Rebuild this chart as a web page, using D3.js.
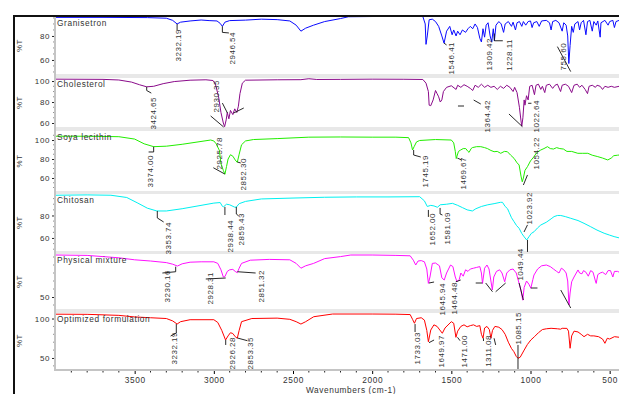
<!DOCTYPE html>
<html>
<head>
<meta charset="utf-8">
<script src="https://cdn.jsdelivr.net/npm/d3@7"></script>
<style>
body { margin: 0; background: #fff; }
svg text { font-family: "Liberation Sans", Arial, sans-serif; }
</style>
</head>
<body>
<svg id="chart" width="619" height="394"></svg>
<script>
// spectra, [wavenumber, %T]
var granisetron = [
  [4000,95.5],[3700,95.5],[3420,95.3],[3300,94.8],[3260,93],[3232,90],[3210,91.5],[3150,92.5],[3080,93.3],[3030,92.8],
  [2980,92.5],[2960,90.5],[2946,88],[2930,91.5],[2900,92.8],[2800,93.2],[2700,94],[2600,93.6],[2520,92.5],[2480,89],
  [2450,84],[2420,86.5],[2370,89],[2300,92],[2200,94.5],[2150,96],[2000,96.2],[1800,96.3],[1680,96.2],[1665,90],
  [1660,73],[1652,80],[1640,93.5],[1620,94],[1600,92],[1580,88],[1560,80],[1546,74],[1530,84],[1510,88],
  [1495,81],[1485,85],[1470,80],[1460,84],[1445,81],[1430,85],[1410,83],[1395,86],[1380,88],[1365,86],
  [1350,90],[1335,87],[1320,78],[1310,75],[1300,86],[1290,79],[1280,89],[1268,91],[1255,80],[1245,75],
  [1235,86],[1228,76],[1218,89],[1200,92],[1185,90],[1170,83],[1160,90],[1140,92],[1120,88],[1110,91.5],
  [1095,85],[1085,91],[1070,92],[1055,88],[1045,92],[1030,89],[1015,92],[1000,92.5],[990,87],[980,91],
  [960,92],[945,88],[930,92.5],[900,93],[880,91],[870,85],[860,92],[840,93],[820,91],[800,84],
  [790,91],[775,89],[765,80],[758,57],[750,72],[740,88],[730,83],[720,90],[700,92],[690,85],
  [680,91],[665,93],[650,81],[640,92],[625,93],[610,84],[600,92],[585,89],[575,92.5],[560,79],
  [555,91],[530,93],[510,89],[500,92],[480,93],[470,87],[460,92],[440,93],[400,92.5]
];
var cholesterol = [
  [4000,101.8],[3700,101.6],[3600,101],[3520,99],[3470,96.5],[3424,94.5],[3380,95],[3320,97.5],[3250,99.5],[3150,100.8],
  [3050,101.2],[3005,100.5],[2990,97],[2970,85],[2955,70],[2940,60],[2932,56.5],[2922,63],[2915,70],[2905,64],
  [2895,72],[2880,68],[2868,73.5],[2855,70],[2845,76],[2835,88],[2820,98],[2800,100.8],[2600,101.2],[2450,101.3],
  [2400,102.2],[2350,101.5],[2200,101.6],[2000,101.8],[1800,101.7],[1680,101.5],[1660,98],[1645,90],[1640,77],[1630,76.5],
  [1615,82],[1600,91],[1590,88],[1580,85],[1570,80],[1560,82],[1550,90],[1530,94],[1500,95.5],[1470,92],
  [1460,96],[1440,94],[1420,96.5],[1400,95],[1380,93],[1365,91],[1350,96],[1330,94],[1310,97],[1290,94],
  [1270,96],[1250,94],[1230,95],[1210,92],[1190,95],[1170,93],[1150,96],[1130,94],[1110,90],[1100,94],
  [1085,89],[1070,75],[1060,62],[1055,57],[1048,65],[1040,82],[1035,77],[1025,86],[1015,82],[1005,95],
  [990,96],[975,87],[965,96],[950,97],[935,92],[925,95],[910,89],[900,96],[880,97],[860,93],
  [845,96],[830,97],[810,90],[800,96],[780,97],[760,95],[740,89],[725,96],[705,97],[690,94],
  [675,96],[655,92],[640,88],[630,95],[610,96],[590,94],[580,96],[560,95],[545,92],[530,95],
  [510,94],[490,95],[470,94],[440,95],[400,95]
];
var soyaLecithin = [
  [4000,104],[3800,104],[3600,103.5],[3500,101],[3440,96],[3380,93],[3300,93.5],[3200,95.5],[3100,98],[3020,100],
  [3000,99],[2985,96],[2965,89],[2955,75],[2940,68],[2930,64],[2920,72],[2910,80],[2895,84.5],[2880,83],
  [2865,79],[2852,76.5],[2840,85],[2825,95],[2800,99],[2750,100.5],[2600,101.5],[2400,103],[2200,103.2],[2000,103],
  [1850,103],[1770,102.5],[1755,97],[1745,89.5],[1735,93],[1720,98],[1700,99.5],[1600,100.5],[1500,100],[1485,97],
  [1475,88],[1469,80.5],[1455,88],[1441,89.5],[1425,91],[1409,91],[1395,88],[1388,87],[1375,91],[1367,92],
  [1340,93],[1314,93],[1290,92],[1272,91],[1250,89],[1230,87.7],[1210,88],[1188,86],[1165,88],[1146,87.7],
  [1125,84],[1104,80.7],[1085,76],[1072,73.7],[1060,62],[1052,56],[1045,60],[1035,68],[1019,72],[1000,78],
  [978,82.4],[960,87],[935,89.5],[915,91],[893,93],[875,91],[855,90.5],[835,92],[815,91],[792,90.5],
  [770,88],[740,88],[701,86],[670,86],[638,86],[610,84],[575,82.5],[545,81],[512,79],[490,81],
  [474,83.5],[450,84],[400,85]
];
var chitosan = [
  [4000,98],[3800,98.3],[3650,98],[3550,96],[3480,91],[3420,86.5],[3360,84],[3300,84],[3200,86],[3100,88.5],
  [3000,91],[2960,91.5],[2945,88],[2938,87.8],[2920,90],[2900,89.5],[2870,87.5],[2859,87.3],[2840,90.5],[2800,92.5],
  [2700,94.7],[2500,95.5],[2300,96.2],[2100,96.5],[1900,96.5],[1700,96.7],[1670,93],[1652,88],[1630,89],[1610,88.5],
  [1588,87.3],[1570,89.5],[1530,90],[1493,90.8],[1460,89],[1430,87],[1400,85],[1367,84],[1345,86],[1310,88],
  [1270,89.5],[1230,90.5],[1190,91.7],[1177,91.7],[1160,88],[1145,86],[1135,82.8],[1120,78],[1104,74.5],[1088,71],
  [1072,68.6],[1055,64],[1040,61],[1024,58.2],[1010,61],[995,64],[977,65.6],[955,69],[935,71.5],[900,74],
  [870,77],[851,79],[830,80],[809,80],[780,79],[746,77.5],[700,75.5],[662,73],[620,70],[580,67],
  [535,64.2],[500,62.5],[472,61.2],[430,59.7],[400,59.5]
];
var physicalMixture = [
  [4000,102.5],[3800,102],[3600,99],[3500,96.5],[3400,95],[3300,93],[3260,91],[3230,88.7],[3200,91.5],[3150,93.5],
  [3080,94],[3000,94],[2975,92],[2955,84],[2940,75],[2930,75.5],[2915,82],[2900,84],[2880,84.5],[2865,82],
  [2852,80.4],[2840,86],[2825,92],[2770,96],[2650,97],[2520,96.5],[2480,92],[2450,86],[2420,89],[2370,92],
  [2300,98],[2200,100.5],[2135,102.5],[2000,102.5],[1850,102],[1760,101.5],[1740,96],[1725,90],[1710,95],[1690,95.5],
  [1670,94],[1655,85],[1645,67],[1635,75],[1620,92],[1600,92.5],[1575,89],[1560,74],[1545,71.2],[1530,80],
  [1505,90],[1490,88],[1475,75],[1464,69],[1450,72],[1440,80],[1425,76],[1410,84],[1395,82],[1380,85],
  [1360,86],[1340,87],[1320,88],[1310,80],[1303,67],[1290,86],[1275,90],[1262,85],[1250,70],[1241,58.8],
  [1232,75],[1215,82],[1195,84],[1180,80],[1163,69],[1150,80],[1130,84],[1110,85],[1090,80],[1072,67],
  [1060,58],[1049,46],[1040,62],[1025,70],[1010,66],[998,61],[985,72],[978,77.5],[955,85],[930,89],
  [900,90],[875,88],[855,85],[835,82],[820,80],[805,86],[790,84],[775,80],[765,70],[757,40],
  [750,55],[740,69],[725,75],[700,83.8],[690,80],[675,79],[665,83],[650,81],[635,76],[620,83],
  [605,81],[590,70],[585,67],[575,78],[560,80],[545,81],[525,78],[510,83],[495,83],[480,75],
  [470,82],[450,82],[430,80],[400,81]
];
var optimizedFormulation = [
  [4000,105.5],[3800,105.3],[3600,104],[3500,102],[3400,101],[3300,100],[3260,97],[3232,93],[3210,96],[3150,98.5],
  [3000,98.5],[2975,95],[2950,85],[2926,72.8],[2910,78],[2895,82],[2880,81],[2865,77],[2852,75],[2840,85],
  [2825,96],[2760,100],[2600,100.5],[2520,99],[2480,96],[2450,93],[2420,96],[2369,102.3],[2250,105.7],[2000,105.7],
  [1850,105.5],[1760,105],[1745,99],[1733,94],[1720,100],[1690,101],[1670,98],[1655,85],[1645,70.6],[1630,85.4],
  [1610,92],[1590,90],[1557,81.3],[1540,88],[1500,96],[1485,94],[1471,76.2],[1460,84],[1440,90],[1420,92],
  [1400,89.5],[1380,91],[1360,92],[1340,90],[1320,91],[1310,80],[1300,75],[1290,88],[1275,90],[1260,86],
  [1250,75],[1240,85],[1225,90],[1200,89],[1180,86],[1160,80],[1140,70],[1120,62],[1105,58],[1090,52],
  [1079,49.6],[1065,51],[1040,60],[1020,67],[998,72.8],[975,77],[950,82],[925,86],[900,87],[870,87.6],
  [830,87],[810,86.5],[800,87.6],[770,87.5],[760,84],[750,62.3],[740,78],[725,84],[700,83],[680,80],
  [662,77],[640,80],[620,78],[600,78],[570,77],[545,74],[530,68.6],[515,75],[500,74],[470,77],
  [430,76],[400,76]
];

// peak labels: [text, wavenumber, %T at top of label]
var granisetronPeaks = [["3232.19",3228,85.8],["2946.54",2881,83.3],["1546.41",1504,75],["1309.42",1264,78.3],["1228.11",1137,77.5],["755.60",796,74.2]];
var cholesterolPeaks = [["3424.65",3386,84.8],["2930.35",2982,101],["1364.42",1272,81.9],["1022.64",967,81.9]];
var soyaPeaks = [["3374.00",3399,84.2],["2925.78",2969,103.2],["2852.30",2813,81],["1745.19",1662,84.2],["1469.67",1422,82.1],["1054.22",967,103.2]];
var chitosanPeaks = [["3353.74",3287,74.2],["2938.44",2894,76],["2859.43",2826,82.2],["1652.00",1619,82.2],["1581.09",1525,83.1],["1023.92",1009,100.9]];
var physicalPeaks = [["3230.16",3293,83.75],["2928.31",3024,81.25],["2851.32",2700,83.75],["1645.94",1556,67.5],["1464.48",1479,68.75],["1049.44",1062,111]];
var optimizedPeaks = [["3232.19",3252,82.9],["2926.28",2883,76.6],["2853.35",2772,76.6],["1733.03",1714,82.9],["1649.97",1567,79.1],["1471.00",1420,79.1],["1311.08",1268,79.1],["1085.15",1079,108.2]];

// leader lines, [wavenumber, %T] points
var granisetronLeaders = [[[3232,90],[3232,84.5]],[[2946,88],[2946,83],[2905,82.5]],[[1546,74],[1530,72.5]],[[1228,82],[1228,76],[1175,76]],[[830,71.1],[746,50.3]]];
var cholesterolLeaders = [[[3424,94.5],[3424,91],[3395,88.5]],[[3020,66.7],[2938,56.2]],[[2946,79],[2914,69.5]],[[2875,69.5],[2811,74.3]],
  [[1359,81.9],[1314,78.1]],[[1458,76.2],[1420,76.2]],[[1136,68.6],[1051,56.5]],[[1015,78.8],[994,78.8]]];
var soyaLeaders = [[[3380,93],[3380,87.4],[3412,87.4]],[[3003,70.8],[2931,64.2]],[[2851,76.8],[2830,75.8]],[[1738,89.5],[1738,84.2],[1693,82.1]],
  [[1462,81],[1434,78.9]],[[1045,52.6],[1019,63.2]]];
var chitosanLeaders = [[[3357,84],[3357,77.8],[3317,74.2]],[[2930,87.6],[2930,80.4]],[[2858,87.6],[2858,81.3],[2843,79.6]],[[1645,84.9],[1645,78.7]],
  [[1571,86.7],[1571,81.3],[1556,80.4]],[[1041,65.3],[1019,71.6]],[[1019,58.2],[1019,47.6]]];
var physicalLeaders = [[[3241,87.9],[3241,81.6],[3325,80]],[[2925,73.75],[3051,72.5]],[[2851,81.6],[2736,80]],[[1641,67.5],[1609,68.75]],
  [[1472,69],[1441,71.25]],[[1346,67.5],[1304,67.5]],[[1283,67.5],[1240,56.6]],[[1220,56.6],[1157,67.5]],[[1072,67.5],[1045,46.25]],
  [[998,61.25],[956,61.25]],[[809,58.75],[746,36.25]]];
var optimizedLeaders = [[[3237,93],[3237,81.6],[3273,77.8]],[[2925,72.8],[2925,66.5]],[[2851,75.3],[2788,71.9]],[[1729,93],[1729,82.9]],
  [[1641,69.4],[1609,72.8]],[[1461,76.2],[1445,71.9]],[[1297,75],[1297,71.5]],[[1230,75],[1220,66.5]],[[1079,66.5],[1079,34.8]]];

var panelNames = ["Granisetron", "Cholesterol", "Soya lecithin", "Chitosan", "Physical mixture", "Optimized formulation"];
var yTickValues = [[80, 60], [100, 80, 60], [100, 80, 60], [80, 60], [50], [100, 50]];
var xTickValues = [3500, 3000, 2500, 2000, 1500, 1000, 500];

var spectra = [granisetron, cholesterol, soyaLecithin, chitosan, physicalMixture, optimizedFormulation];
var peaks = [granisetronPeaks, cholesterolPeaks, soyaPeaks, chitosanPeaks, physicalPeaks, optimizedPeaks];
var leaders = [granisetronLeaders, cholesterolLeaders, soyaLeaders, chitosanLeaders, physicalLeaders, optimizedLeaders];

var colors = ["#0a0aff", "#8a0a8a", "#22ee00", "#00f0f0", "#ff10ff", "#ff0000"];
var panels = [
  {top: 17, bottom: 74, lo: 48.3, hi: 95.8, minor: 5},
  {top: 78, bottom: 127, lo: 56.2, hi: 102.9, minor: 5},
  {top: 131, bottom: 191, lo: 46.3, hi: 109.5, minor: 5},
  {top: 194, bottom: 251, lo: 48.4, hi: 99.1, minor: 5},
  {top: 254, bottom: 309, lo: 35, hi: 103.75, minor: 10},
  {top: 313, bottom: 368, lo: 37.3, hi: 107, minor: 10}
];
var left = 55, right = 619, axisY = 370;

var svg = d3.select("#chart");
var x = d3.scaleLinear().domain([4000, 400]).range([55.5, 625.5]);

// gray bands between panels
svg.selectAll("rect.gap")
  .data(panels.slice(0, -1))
  .enter().append("rect")
  .attr("x", left).attr("width", right - left)
  .attr("y", d => d.bottom)
  .attr("height", (d, i) => panels[i + 1].top - d.bottom)
  .attr("fill", "#e8e8e8");

var defs = svg.append("defs");

panels.forEach((p, i) => {
  var y = d3.scaleLinear().domain([p.lo, p.hi]).range([p.bottom, p.top]);
  var g = svg.append("g");

  defs.append("clipPath").attr("id", "clip" + i)
    .append("rect").attr("x", left + 1).attr("y", p.top).attr("width", right - left).attr("height", p.bottom - p.top);

  g.append("path")
    .datum(spectra[i])
    .attr("clip-path", "url(#clip" + i + ")")
    .attr("fill", "none")
    .attr("stroke", colors[i])
    .attr("stroke-width", 1)
    .attr("d", d3.line().x(d => x(d[0])).y(d => y(d[1])));

  // y axis
  var yAxis = d3.axisLeft(y).tickValues(yTickValues[i]).tickSize(3).tickPadding(2);
  var ax = g.append("g").attr("transform", "translate(" + left + ",0)").call(yAxis);
  ax.select(".domain").remove();
  ax.selectAll("text").attr("font-size", 8).attr("fill", "#333").attr("letter-spacing", 0.6)
    .attr("font-family", "Liberation Sans, Arial, sans-serif");
  ax.selectAll("line").attr("stroke", "#222");
  var minors = d3.range(Math.ceil(p.lo / p.minor) * p.minor, p.hi, p.minor)
    .filter(v => yTickValues[i].indexOf(v) < 0);
  g.selectAll("line.minor").data(minors).enter().append("line")
    .attr("x1", left - 1.5).attr("x2", left)
    .attr("y1", d => y(d)).attr("y2", d => y(d))
    .attr("stroke", "#222");

  g.append("text")
    .attr("transform", "translate(22," + (p.top + p.bottom) / 2 + ") rotate(-90)")
    .attr("text-anchor", "middle")
    .attr("font-size", 8).attr("fill", "#333").attr("letter-spacing", 0.5)
    .text("%T");

  g.append("text")
    .attr("x", left + 2).attr("y", p.top + 9)
    .attr("font-size", 8.3).attr("fill", "#333").attr("letter-spacing", 0.6)
    .text(panelNames[i]);

  g.selectAll("path.leader").data(leaders[i]).enter().append("path")
    .attr("fill", "none").attr("stroke", "#111").attr("stroke-width", 0.9)
    .attr("d", d3.line().x(d => x(d[0])).y(d => y(d[1])));

  g.selectAll("text.peak").data(peaks[i]).enter().append("text")
    .attr("transform", d => "translate(" + x(d[1]) + "," + y(d[2]) + ") rotate(-90)")
    .attr("text-anchor", "end").attr("dy", "0.35em")
    .attr("font-size", 8).attr("fill", "#333").attr("letter-spacing", 0.5)
    .text(d => d[0]);
});

// left and bottom axis bars
svg.append("line").attr("x1", left).attr("x2", left).attr("y1", panels[0].top).attr("y2", axisY + 1)
  .attr("stroke", "#c4c4c4").attr("stroke-width", 2);
svg.append("line").attr("x1", left - 1).attr("x2", right).attr("y1", axisY).attr("y2", axisY)
  .attr("stroke", "#c4c4c4").attr("stroke-width", 2);

var xAxis = d3.axisBottom(x).tickValues(xTickValues).tickSize(3).tickPadding(3).tickFormat(d3.format("d"));
var xa = svg.append("g").attr("transform", "translate(0," + (axisY + 1) + ")").call(xAxis);
xa.select(".domain").remove();
xa.selectAll("text").attr("font-size", 8.3).attr("fill", "#333").attr("letter-spacing", 0.6)
  .attr("font-family", "Liberation Sans, Arial, sans-serif");
svg.selectAll("line.xminor")
  .data(d3.range(3900, 400, -100).filter(v => v % 500 !== 0))
  .enter().append("line")
  .attr("x1", d => x(d)).attr("x2", d => x(d))
  .attr("y1", axisY + 1).attr("y2", axisY + 2.5)
  .attr("stroke", "#222");

svg.append("text")
  .attr("x", 351).attr("y", 393)
  .attr("text-anchor", "middle")
  .attr("font-size", 8.3).attr("fill", "#333").attr("letter-spacing", 0.6)
  .text("Wavenumbers (cm-1)");

// outer frame
svg.append("path")
  .attr("d", "M14,394V16H619")
  .attr("fill", "none").attr("stroke", "#111").attr("stroke-width", 2);
</script>
</body>
</html>
